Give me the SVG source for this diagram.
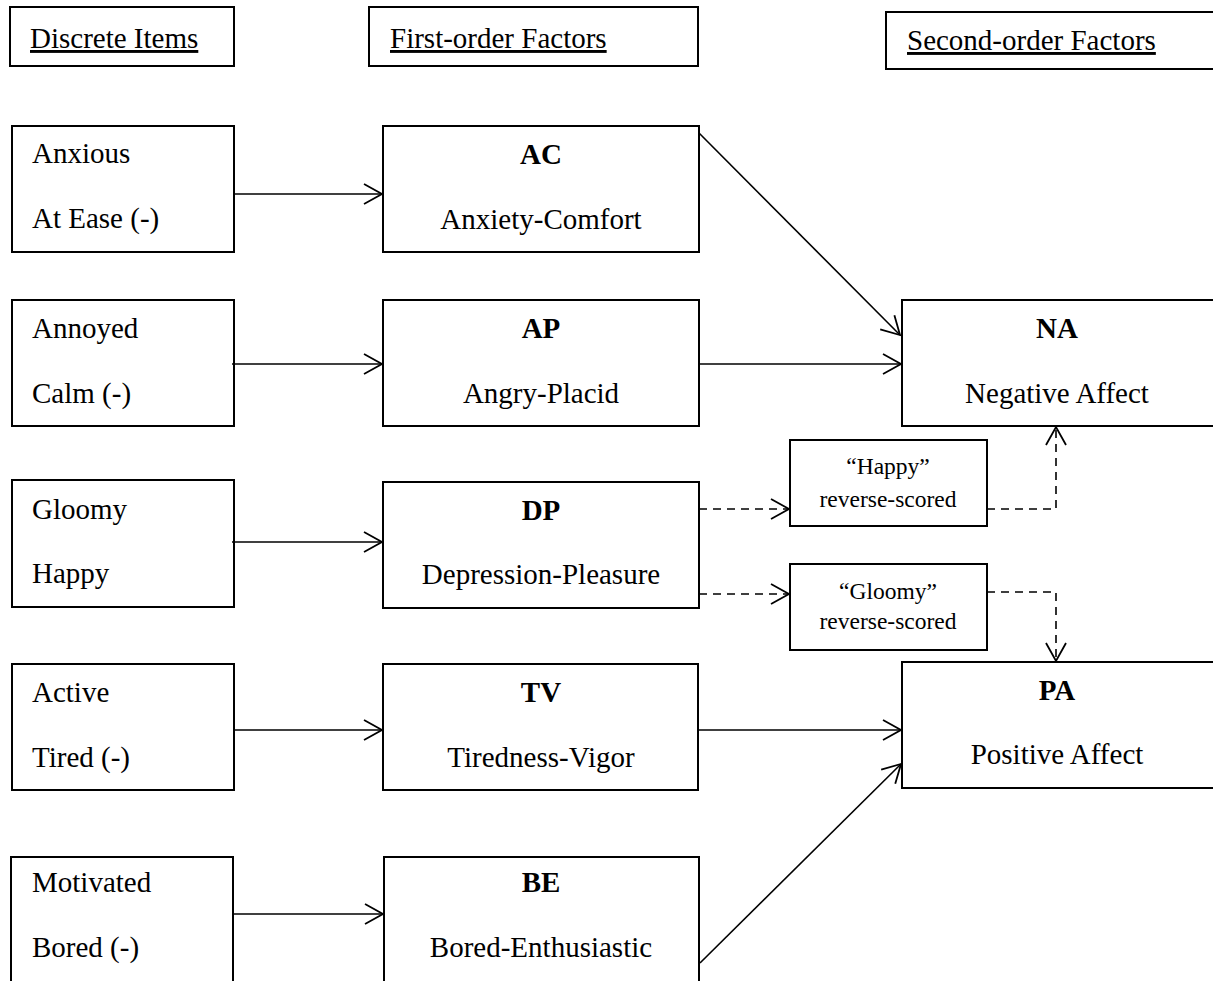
<svg xmlns="http://www.w3.org/2000/svg" width="1213" height="981" viewBox="0 0 1213 981">
<defs>
<style>
.box{fill:#fff;stroke:#000;stroke-width:2}
.t{font-family:"Liberation Serif","Times New Roman",serif;font-size:29px;fill:#000}
.b{font-weight:bold;text-anchor:middle}
.c{text-anchor:middle}
.s{font-family:"Liberation Serif","Times New Roman",serif;font-size:23.5px;fill:#000;text-anchor:middle}
.u{text-decoration:underline}
.ln{fill:none;stroke:#000;stroke-width:1.6}
.d{stroke-dasharray:8,6}
</style>
<marker id="ah" markerUnits="userSpaceOnUse" markerWidth="22" markerHeight="24" refX="19" refY="11" orient="auto">
<path d="M1,1 L19,11 L1,21" fill="none" stroke="#000" stroke-width="1.8"/>
</marker>
</defs>
<g id="hdr-discrete"><rect class="box" x="10" y="7" width="224" height="59"/><text class="t u" x="30" y="48">Discrete Items</text></g>
<g id="hdr-first"><rect class="box" x="369" y="7" width="329" height="59"/><text class="t u" x="390" y="48">First-order Factors</text></g>
<g id="hdr-second"><rect class="box" x="886" y="12" width="340" height="57"/><text class="t u" x="907" y="50">Second-order Factors</text></g>

<g id="item-ac"><rect class="box" x="12" y="126" width="222" height="126"/><text class="t" x="32" y="163">Anxious</text><text class="t" x="32" y="228">At Ease (-)</text></g>
<g id="item-ap"><rect class="box" x="12" y="300" width="222" height="126"/><text class="t" x="32" y="338">Annoyed</text><text class="t" x="32" y="403">Calm (-)</text></g>
<g id="item-dp"><rect class="box" x="12" y="480" width="222" height="127"/><text class="t" x="32" y="519">Gloomy</text><text class="t" x="32" y="583">Happy</text></g>
<g id="item-tv"><rect class="box" x="12" y="664" width="222" height="126"/><text class="t" x="32" y="702">Active</text><text class="t" x="32" y="767">Tired (-)</text></g>
<g id="item-be"><rect class="box" x="11" y="857" width="222" height="140"/><text class="t" x="32" y="892">Motivated</text><text class="t" x="32" y="957">Bored (-)</text></g>

<g id="f-ac"><rect class="box" x="383" y="126" width="316" height="126"/><text class="t b" x="541" y="164">AC</text><text class="t c" x="541" y="229">Anxiety-Comfort</text></g>
<g id="f-ap"><rect class="box" x="383" y="300" width="316" height="126"/><text class="t b" x="541" y="338">AP</text><text class="t c" x="541" y="403">Angry-Placid</text></g>
<g id="f-dp"><rect class="box" x="383" y="482" width="316" height="126"/><text class="t b" x="541" y="520">DP</text><text class="t c" x="541" y="584">Depression-Pleasure</text></g>
<g id="f-tv"><rect class="box" x="383" y="664" width="315" height="126"/><text class="t b" x="541" y="702">TV</text><text class="t c" x="541" y="767">Tiredness-Vigor</text></g>
<g id="f-be"><rect class="box" x="384" y="857" width="315" height="140"/><text class="t b" x="541" y="892">BE</text><text class="t c" x="541" y="957">Bored-Enthusiastic</text></g>

<g id="rev-happy"><rect class="box" x="790" y="440" width="197" height="86"/><text class="s" x="888" y="474">“Happy”</text><text class="s" x="888" y="507">reverse-scored</text></g>
<g id="rev-gloomy"><rect class="box" x="790" y="564" width="197" height="86"/><text class="s" x="888" y="599">“Gloomy”</text><text class="s" x="888" y="629">reverse-scored</text></g>

<g id="s-na"><rect class="box" x="902" y="300" width="330" height="126"/><text class="t b" x="1057" y="338">NA</text><text class="t c" x="1057" y="403">Negative Affect</text></g>
<g id="s-pa"><rect class="box" x="902" y="662" width="330" height="126"/><text class="t b" x="1057" y="700">PA</text><text class="t c" x="1057" y="764">Positive Affect</text></g>

<g id="connectors">
<line class="ln" x1="234" y1="194" x2="382" y2="194" marker-end="url(#ah)"/>
<line class="ln" x1="232" y1="364" x2="382" y2="364" marker-end="url(#ah)"/>
<line class="ln" x1="232" y1="542" x2="382" y2="542" marker-end="url(#ah)"/>
<line class="ln" x1="234" y1="730" x2="382" y2="730" marker-end="url(#ah)"/>
<line class="ln" x1="233" y1="914" x2="383" y2="914" marker-end="url(#ah)"/>
<line class="ln" x1="699" y1="133" x2="900" y2="335" marker-end="url(#ah)"/>
<line class="ln" x1="699" y1="364" x2="901" y2="364" marker-end="url(#ah)"/>
<line class="ln" x1="698" y1="730" x2="901" y2="730" marker-end="url(#ah)"/>
<line class="ln" x1="700" y1="963" x2="901" y2="764" marker-end="url(#ah)"/>
<line class="ln d" x1="699" y1="509" x2="789" y2="509" marker-end="url(#ah)"/>
<line class="ln d" x1="699" y1="594" x2="789" y2="594" marker-end="url(#ah)"/>
<polyline class="ln d" points="987,509 1056,509 1056,427" marker-end="url(#ah)"/>
<polyline class="ln d" points="987,592 1056,592 1056,661" marker-end="url(#ah)"/>
</g>
</svg>
